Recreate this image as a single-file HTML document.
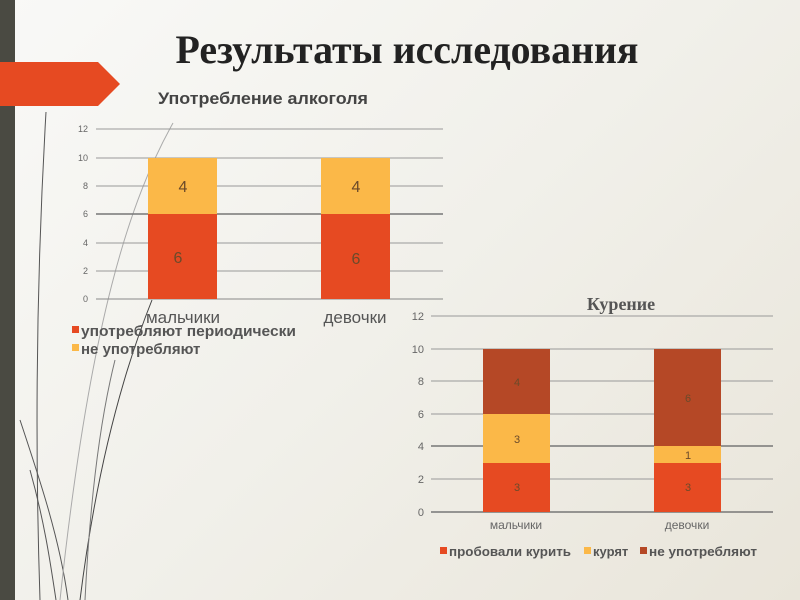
<!DOCTYPE html>
<html><head><meta charset="utf-8"><style>
body{margin:0;width:800px;height:600px;overflow:hidden;background:linear-gradient(135deg,#f9f9f7 0%,#f1f0ea 50%,#e9e5da 100%);font-family:"Liberation Sans",sans-serif;}
</style></head><body>
<svg width="800" height="600" style="position:absolute;left:0;top:0" font-family="Liberation Sans, sans-serif">
<rect x="0" y="0" width="15" height="600" fill="#4a4a42"/>
<g fill="none" stroke="#555" stroke-width="1">
<path d="M46 112 C38 250 34 420 40 600"/>
<path d="M20 420 C40 480 60 540 68 600"/>
<path d="M30 470 C44 520 50 560 56 600"/>
<path d="M173 123 C130 200 90 320 60 600" stroke="#aaa"/>
<path d="M152 300 C120 380 95 480 80 600" stroke="#444"/>
<path d="M115 360 C100 420 90 500 85 600" stroke="#777"/>
</g>
<polygon points="0,62 98,62 120,84 98,106 0,106" fill="#e64a22"/>
<text x="407" y="63" text-anchor="middle" font-family="Liberation Serif, serif" font-weight="bold" font-size="40" fill="#222" textLength="463" lengthAdjust="spacingAndGlyphs">Результаты исследования</text>
<text x="263" y="104" text-anchor="middle" font-weight="bold" font-size="17" fill="#444" textLength="210" lengthAdjust="spacingAndGlyphs">Употребление алкоголя</text>
<g stroke="#999" stroke-width="1">
<line x1="96" x2="443" y1="129" y2="129"/><line x1="96" x2="443" y1="158" y2="158"/><line x1="96" x2="443" y1="186" y2="186"/><line x1="96" x2="443" y1="214" y2="214" stroke="#777" stroke-width="1.5"/><line x1="96" x2="443" y1="243" y2="243"/><line x1="96" x2="443" y1="271" y2="271"/><line x1="96" x2="443" y1="299" y2="299" stroke="#888"/>
</g>
<g font-size="9" fill="#666" text-anchor="end">
<text x="88" y="132">12</text><text x="88" y="161">10</text><text x="88" y="189">8</text><text x="88" y="217">6</text><text x="88" y="246">4</text><text x="88" y="274">2</text><text x="88" y="302">0</text>
</g>
<rect x="148" y="158" width="69" height="56" fill="#fbb848"/><rect x="148" y="214" width="69" height="85" fill="#e64a22"/>
<rect x="321" y="158" width="69" height="56" fill="#fbb848"/><rect x="321" y="214" width="69" height="85" fill="#e64a22"/>
<g font-size="16" fill="#6b4a2a" text-anchor="middle">
<text x="183" y="192">4</text><text x="178" y="263">6</text><text x="356" y="192">4</text><text x="356" y="264">6</text>
</g>
<text x="183" y="323" text-anchor="middle" font-size="17" fill="#555">мальчики</text>
<text x="355" y="323" text-anchor="middle" font-size="17" fill="#555">девочки</text>
<rect x="72" y="326" width="7" height="7" fill="#e64a22"/><text x="81" y="336" font-size="15" font-weight="bold" fill="#555" textLength="215" lengthAdjust="spacingAndGlyphs">употребляют периодически</text>
<rect x="72" y="344" width="7" height="7" fill="#fbb848"/><text x="81" y="354" font-size="15" font-weight="bold" fill="#555">не употребляют</text>
<text x="621" y="310" text-anchor="middle" font-family="Liberation Serif, serif" font-weight="bold" font-size="18" fill="#555">Курение</text>
<g stroke="#999">
<line x1="431" x2="773" y1="316" y2="316"/><line x1="431" x2="773" y1="349" y2="349"/><line x1="431" x2="773" y1="381" y2="381"/><line x1="431" x2="773" y1="414" y2="414"/><line x1="431" x2="773" y1="446" y2="446" stroke="#777" stroke-width="1.5"/><line x1="431" x2="773" y1="479" y2="479"/><line x1="431" x2="773" y1="512" y2="512" stroke="#777" stroke-width="1.5"/>
</g>
<g font-size="11" fill="#666" text-anchor="end">
<text x="424" y="320">12</text><text x="424" y="353">10</text><text x="424" y="385">8</text><text x="424" y="418">6</text><text x="424" y="450">4</text><text x="424" y="483">2</text><text x="424" y="516">0</text>
</g>
<rect x="483" y="349" width="67" height="65" fill="#b54826"/><rect x="483" y="414" width="67" height="49" fill="#fbb848"/><rect x="483" y="463" width="67" height="49" fill="#e64a22"/>
<rect x="654" y="349" width="67" height="97" fill="#b54826"/><rect x="654" y="446" width="67" height="17" fill="#fbb848"/><rect x="654" y="463" width="67" height="49" fill="#e64a22"/>
<g font-size="11" fill="#6b4a2a" text-anchor="middle">
<text x="517" y="386">4</text><text x="517" y="443">3</text><text x="517" y="491">3</text>
<text x="688" y="402">6</text><text x="688" y="459">1</text><text x="688" y="491">3</text>
</g>
<text x="516" y="529" text-anchor="middle" font-size="12" fill="#666">мальчики</text>
<text x="687" y="529" text-anchor="middle" font-size="12" fill="#666">девочки</text>
<rect x="440" y="547" width="7" height="7" fill="#e64a22"/><text x="449" y="556" font-size="13" font-weight="bold" fill="#555" textLength="122" lengthAdjust="spacingAndGlyphs">пробовали курить</text>
<rect x="584" y="547" width="7" height="7" fill="#fbb848"/><text x="593" y="556" font-size="13" font-weight="bold" fill="#555">курят</text>
<rect x="640" y="547" width="7" height="7" fill="#b54826"/><text x="649" y="556" font-size="13" font-weight="bold" fill="#555" textLength="108" lengthAdjust="spacingAndGlyphs">не употребляют</text>
</svg>
</body></html>
